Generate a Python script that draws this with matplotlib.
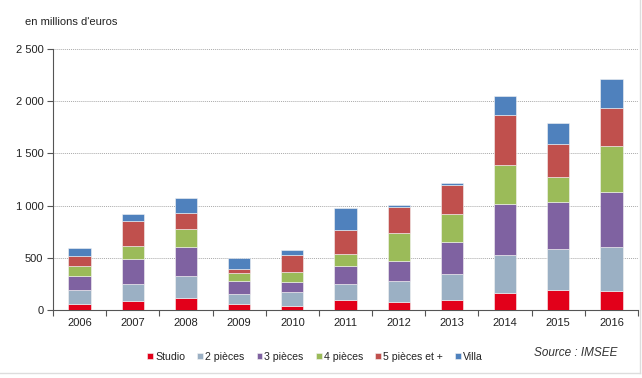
import matplotlib
matplotlib.use("Agg")
import matplotlib.pyplot as plt
from matplotlib.lines import Line2D
import numpy as np

plt.rcParams['font.family'] = ['Liberation Sans', 'DejaVu Sans']

years = ['2006', '2007', '2008', '2009', '2010', '2011', '2012', '2013', '2014', '2015', '2016']
series_names = ['Studio', '2 pièces', '3 pièces', '4 pièces', '5 pièces et +', 'Villa']
studio = [60, 87, 112, 61, 42, 93, 77, 99, 167, 196, 186]
p2 = [132, 163, 215, 93, 131, 154, 202, 247, 362, 391, 420]
p3 = [135, 234, 272, 128, 96, 170, 195, 308, 490, 445, 529]
p4 = [90, 131, 180, 77, 96, 121, 266, 263, 372, 244, 432]
p5 = [96, 234, 147, 32, 164, 225, 244, 279, 478, 314, 366]
villa = [80, 71, 148, 103, 45, 215, 22, 19, 185, 205, 282]
colors = ['#E2001A', '#9BB0C4', '#7F62A1', '#9BBB59', '#C0504D', '#4F81BD']
yticks = [0, 500, 1000, 1500, 2000, 2500]
ytick_labels = ['0', '500', '1 000', '1 500', '2 000', '2 500']

fig = plt.figure(figsize=(6.42, 3.78), dpi=100)
ax = fig.add_axes([53/642, 1-310/378, (638-53)/642, (310-49)/378])

x = np.arange(len(years))
bottom = np.zeros(len(years))
handles = []
for name, vals, c in zip(series_names, [studio, p2, p3, p4, p5, villa], colors):
    b = ax.bar(x, vals, width=0.42, bottom=bottom, color=c, label=name, zorder=3,
               edgecolor='#f4f4f4', linewidth=0.4)
    bottom += np.array(vals)
    handles.append(b)

ax.set_xlim(-0.5, len(years) - 0.5)
ax.set_ylim(0, 2500)
ax.set_yticks(yticks)
ax.set_yticklabels(ytick_labels, fontsize=8, color='#222222')
ax.set_xticks(x)
ax.set_xticklabels(years, fontsize=8, color='#222222')
ax.tick_params(axis='x', length=0, pad=6)
ax.set_xticks(np.arange(-0.5, len(years) + 0.5, 1), minor=True)
ax.tick_params(axis='x', which='minor', length=4, width=0.8, color='#555555', direction='out')
ax.tick_params(axis='y', length=4, width=0.8, color='#555555', direction='out', pad=3)

ax.grid(axis='y', linestyle=(0, (1, 1)), color='#aaaaaa', linewidth=0.7, zorder=0)
for s in ['top', 'right']:
    ax.spines[s].set_visible(False)
ax.spines['left'].set_color('#555555')
ax.spines['bottom'].set_color('#555555')
ax.spines['left'].set_linewidth(0.8)
ax.spines['bottom'].set_linewidth(0.8)

fig.text(25/642, 1-22/378, "en millions d'euros", fontsize=8, color='#222222', va='center', ha='left')
fig.text(617/642, 1-353/378, "Source : IMSEE", fontsize=8.5, style='italic', color='#333333', va='center', ha='right')

fig.legend(handles=handles, labels=series_names, loc='center', bbox_to_anchor=(315/642, 1-357/378),
           ncol=6, frameon=False, fontsize=7.6, handlelength=0.55, handleheight=0.55,
           handletextpad=0.2, columnspacing=1.15, labelcolor='#222222')

fig.add_artist(Line2D([640/642, 640/642], [1-373/378, 1], color='#dddddd', linewidth=1))
fig.add_artist(Line2D([0, 640/642], [1-373/378, 1-373/378], color='#dddddd', linewidth=1))

fig.savefig('out.png', dpi=100)
